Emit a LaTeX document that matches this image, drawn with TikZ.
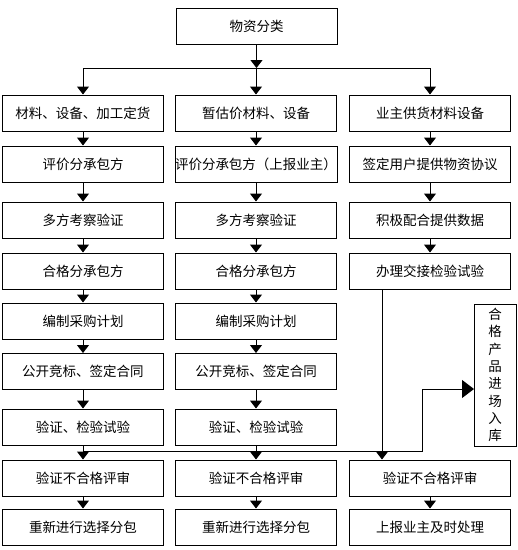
\documentclass[tikz,border=0pt]{standalone}
\usepackage{fontspec}
\newfontfamily\cjk{Noto Sans CJK SC}
\usetikzlibrary{arrows.meta,calc}

\begin{document}
\begin{tikzpicture}[
		x=1pt,
		y=-1pt,
		line join=miter,
		box/.style={
			draw=black,
			line width=1pt,
			minimum width=161pt,
			minimum height=36pt,
			inner sep=0pt,
			font=\cjk\fontsize{13.5}{16}\selectfont
		},
		link/.style={
			draw=black,
			line width=1pt
		},
		flow/.style={
			link,
			-{Triangle[width=12pt,length=8pt]}
		},
		bigflow/.style={
			link,
			-{Triangle[width=18pt,length=12pt]}
		}
		]
		
		% page frame
		\useasboundingbox (0,0) rectangle (518,550);
		
		% top box
		\node[box] (cls) at (256.5,26) {物资分类};
		
		% column 1
		\node[box] (a1) at (83,113)   {材料、设备、加工定货};
		\node[box] (a2) at (83,164)   {评价分承包方};
		\node[box] (a3) at (83,220)   {多方考察验证};
		\node[box] (a4) at (83,271)   {合格分承包方};
		\node[box] (a5) at (83,321)   {编制采购计划};
		\node[box] (a6) at (83,371.5) {公开竞标、签定合同};
		\node[box] (a7) at (83,427)   {验证、检验试验};
		\node[box] (a8) at (83,478)   {验证不合格评审};
		\node[box] (a9) at (83,527)   {重新进行选择分包};
		
		% column 2
		\node[box] (b1) at (256,113)   {暂估价材料、设备};
		\node[box] (b2) at (256,164)   {评价分承包方（上报业主）};
		\node[box] (b3) at (256,220)   {多方考察验证};
		\node[box] (b4) at (256,271)   {合格分承包方};
		\node[box] (b5) at (256,321)   {编制采购计划};
		\node[box] (b6) at (256,371.5) {公开竞标、签定合同};
		\node[box] (b7) at (256,427)   {验证、检验试验};
		\node[box] (b8) at (256,478)   {验证不合格评审};
		\node[box] (b9) at (256,527)   {重新进行选择分包};
		
		% column 3
		\node[box] (c1) at (430,113) {业主供货材料设备};
		\node[box] (c2) at (430,164) {签定用户提供物资协议};
		\node[box] (c3) at (430,220) {积极配合提供数据};
		\node[box] (c4) at (430,271) {办理交接检验试验};
		\node[box] (c8) at (430,478) {验证不合格评审};
		\node[box] (c9) at (430,527) {上报业主及时处理};
		
		% store box
		\node[box,minimum width=42pt,minimum height=142pt,align=center,
			font=\cjk\fontsize{13.5}{17.3}\selectfont]
			(store) at (495,375) {合\\格\\产\\品\\进\\场\\入\\库};
		
		% fork below top box
		\coordinate (fork) at (256.5,68);
		\draw[flow] (cls) -- (fork);
		\draw[link] (a1.north |- fork) -- (c1.north |- fork);
		\foreach \n in {a1,b1,c1}
			\draw[flow] (\n.north |- fork) -- (\n.north);
		
		% column arrows
		\foreach \u/\v in {a1/a2,a2/a3,a3/a4,a4/a5,a5/a6,a6/a7,a7/a8,a8/a9,
			b1/b2,b2/b3,b3/b4,b4/b5,b5/b6,b6/b7,b7/b8,b8/b9,
			c1/c2,c2/c3,c3/c4,c8/c9}
			\draw[flow] (\u) -- (\v);
		
		% handover line
		\coordinate (hand) at (382,289);
		\draw[flow] (hand) -- (hand |- c8.north);
		
		% line to store
		\coordinate (turn) at (422,451);
		\coordinate (storein) at (474,389);
		\draw[bigflow] (a7.south |- turn) -- (turn) |- (storein);
\end{tikzpicture}
\end{document}
